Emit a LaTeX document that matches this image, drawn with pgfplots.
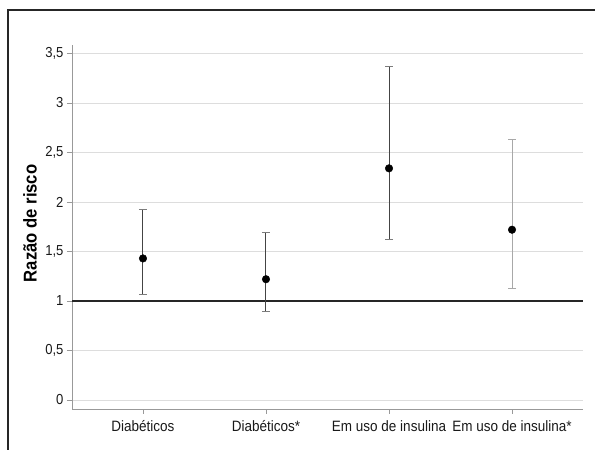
\documentclass[border=0pt]{standalone}
\usepackage{pgfplots}
\pgfplotsset{compat=1.18}
\usepackage{pgfplotstable}
\usepackage{fontspec}
\setmainfont{Liberation Sans}[FakeStretch=0.9]
\definecolor{gridc}{HTML}{DDDDDD}
\definecolor{axc}{HTML}{999999}
\definecolor{barc}{HTML}{444444}
\definecolor{barl}{HTML}{A8A8A8}

\pgfplotstableread{
x y ep em
0 1.43 0.49 0.36
1 1.22 0.47 0.33
2 2.34 1.03 0.72
}\darkdata
\pgfplotstableread{
x y ep em
3 1.72 0.91 0.59
}\lightdata

\begin{document}
\begin{tikzpicture}
\useasboundingbox (0,0) rectangle (595bp,450bp);
\draw[line width=1.1pt, color=black!85] (8bp,0bp) -- (8bp,440bp) -- (596bp,440bp);
\begin{axis}[
  at={(72bp,41bp)}, anchor=south west,
  scale only axis, width=511bp, height=364bp,
  xmin=-0.577, xmax=3.577, ymin=-0.091, ymax=3.586,
  axis lines*=left,
  axis line style={color=axc, line width=0.9pt},
  tick style={color=axc, line width=0.8pt},
  tick align=outside, major tick length=5bp,
  xtick={0,1,2,3},
  xticklabels={Diabéticos, Diabéticos*, Em uso de insulina, Em uso de insulina*},
  ytick={0,0.5,1,1.5,2,2.5,3,3.5},
  /pgf/number format/use comma,
  /pgf/number format/assume math mode=true,
  yticklabel style={font=\fontsize{14.5bp}{16bp}\selectfont, text=black!90},
  xticklabel style={font=\fontsize{15bp}{17bp}\selectfont, text=black!90, yshift=-3bp},
  ymajorgrids, grid style={color=gridc, line width=0.9pt},
  ylabel={Razão de risco},
  ylabel style={at={(axis description cs:-0.082,0.51)}, anchor=center, font=\bfseries\fontsize{18.5bp}{20bp}\selectfont},
  clip=false,
]
\addplot[color=black!85, line width=1.3pt, forget plot] coordinates {(-0.577,1) (3.577,1)};
\addplot[only marks, mark=*, mark size=3.8bp, mark options={fill=black, draw=black},
  error bars/.cd, y dir=both, y explicit,
  error bar style={color=barc, line width=1pt},
  error mark options={rotate=90, color=barc!70, line width=1pt, mark size=4bp}]
  table[x=x, y=y, y error plus=ep, y error minus=em] {\darkdata};
\addplot[only marks, mark=*, mark size=3.8bp, mark options={fill=black, draw=black},
  error bars/.cd, y dir=both, y explicit,
  error bar style={color=barl, line width=1pt},
  error mark options={rotate=90, color=barl, line width=1pt, mark size=4bp}]
  table[x=x, y=y, y error plus=ep, y error minus=em] {\lightdata};
\end{axis}
\end{tikzpicture}
\end{document}
